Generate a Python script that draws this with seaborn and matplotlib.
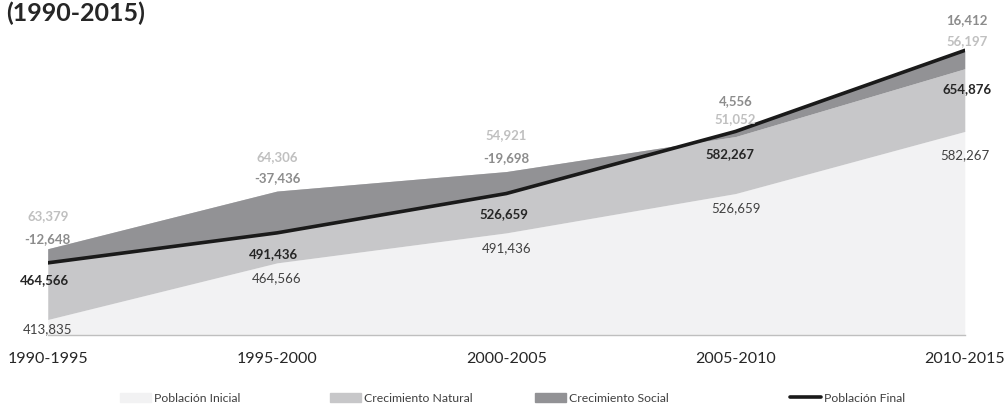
import numpy as np
import pandas as pd
import matplotlib.pyplot as plt
import seaborn as sns
from matplotlib.patches import Patch
from matplotlib.lines import Line2D

# Data
periods = ['1990-1995', '1995-2000', '2000-2005', '2005-2010', '2010-2015']
pob_inicial = [413835, 464566, 491436, 526659, 582267]
crec_natural = [63379, 64306, 54921, 51052, 56197]
crec_social = [-12648, -37436, -19698, 4556, 16412]
pob_final = [464566, 491436, 526659, 582267, 654876]

sns.set_style('white')
plt.rcParams['font.family'] = ['Lato', 'DejaVu Sans']

df = pd.DataFrame({'periodo': periods, 'inicial': pob_inicial, 'natural': crec_natural,
                   'social': crec_social, 'final': pob_final})
df['idx'] = np.arange(len(df))
df['top_nat'] = df['inicial'] + df['natural']
df['top'] = df[['top_nat', 'final']].max(axis=1)

c_ini, c_nat, c_soc, c_fin = '#f2f2f3', '#c7c7c9', '#929295', '#1a1a1a'
ymin, ymax = 400000, 700000

fig = plt.figure(figsize=(10.05, 4.07), dpi=100)
ax = fig.add_axes([0.0475, 0.177, 0.9125, 0.823])

# stacked areas (Excel style, negative social growth eats into the stack)
ax.fill_between(df['idx'], ymin, df['inicial'], color=c_ini, lw=0)
ax.fill_between(df['idx'], df['inicial'], df['top_nat'], color=c_nat, lw=0)
ax.fill_between(df['idx'], df['top_nat'], df['final'], color=c_soc, lw=0)
sns.lineplot(data=df, x='idx', y='final', color=c_fin, lw=2.6, ax=ax)

ax.set_xlim(0, len(df) - 1)
ax.set_ylim(ymin, ymax)
ax.set_yticks([])
ax.set_xticks(df['idx'])
ax.set_xticklabels(periods)
ax.set_xlabel('')
ax.set_ylabel('')
for s in ['top', 'left', 'right']:
    ax.spines[s].set_visible(False)
ax.spines['bottom'].set_color('#bfbfbf')
ax.spines['bottom'].set_linewidth(1)
ax.tick_params(axis='x', direction='out', length=5, color='#bfbfbf', width=1,
               labelsize=11.5, labelcolor='#262626', pad=7)

# data labels (pixel offsets from the anchor point)
off_ini = [(0, -10), (0, -15), (0, -15), (0, -15), (0, -24)]
off_fin = [(-3, -17), (-4, -21), (-2, -21), (-6, -23), (2, -39)]
off_nat = [(0, 33), (0, 34), (0, 36), (0, 12), (2, 9)]
off_soc = [(0, 10), (0, 13), (0, 13), (0, 30), (2, 30)]

def put(i, y, txt, off, color, bold):
    ax.annotate(txt, xy=(i, y), xytext=off, textcoords='offset pixels',
                ha='center', va='center', fontsize=9.5, color=color,
                fontweight='bold' if bold else 'normal', annotation_clip=False)

for i, r in df.iterrows():
    put(r['idx'], r['inicial'], f"{r['inicial']:,}", off_ini[i], '#404040', False)
    put(r['idx'], r['final'], f"{r['final']:,}", off_fin[i], '#262626', True)
    put(r['idx'], r['top'], f"{r['natural']:,}", off_nat[i], '#c0c0c0', True)
    put(r['idx'], r['top'], f"{r['social']:,}", off_soc[i], '#8c8c8c', True)

fig.text(6 / 1005, 1 - 2 / 407, '(1990-2015)', fontsize=18, fontweight='bold',
         ha='left', va='top', color='#262626')

# legend, one entry each so spacing follows the original
handles = [Patch(color=c_ini), Patch(color=c_nat), Patch(color=c_soc),
           Line2D([], [], color=c_fin, lw=2.6)]
names = ['Población Inicial', 'Crecimiento Natural', 'Crecimiento Social', 'Población Final']
lx = [120, 330, 535, 790]
for h, n, x0 in zip(handles, names, lx):
    fig.legend([h], [n], loc='center left', bbox_to_anchor=(x0 / 1005, 1 - 398 / 407),
               frameon=False, fontsize=8.8, borderpad=0, borderaxespad=0,
               handlelength=2.5, handleheight=0.8, handletextpad=0.3,
               labelcolor='#404040')

fig.savefig('out.png', dpi=100)
